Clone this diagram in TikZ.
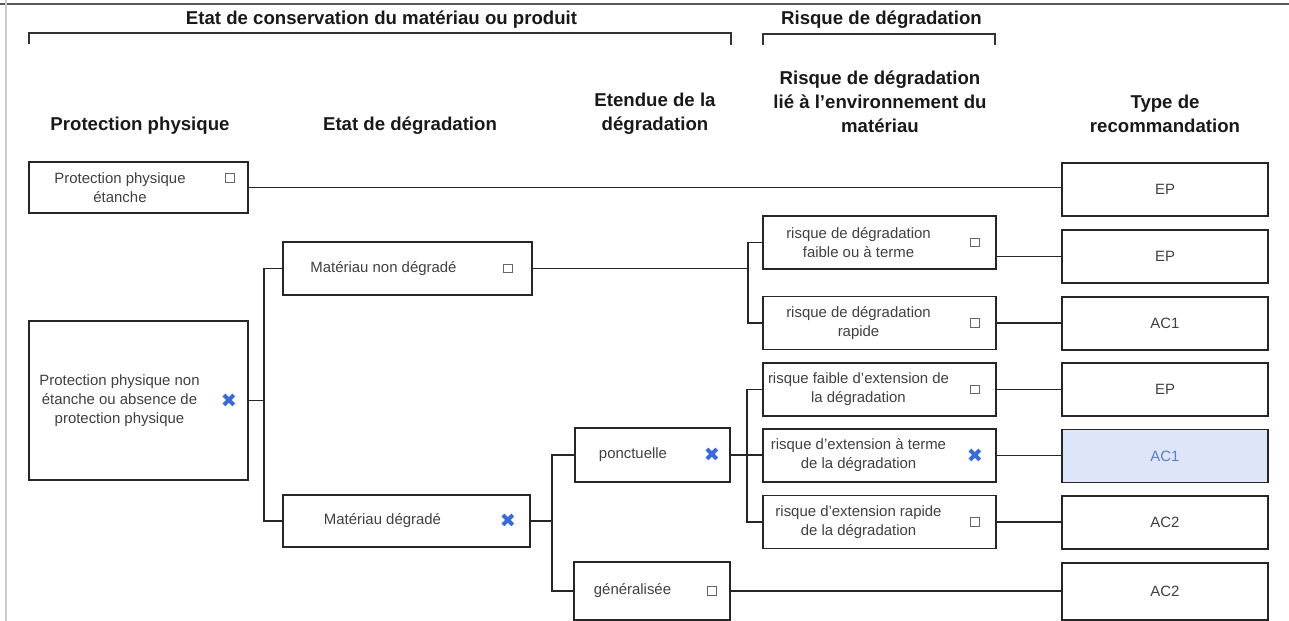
\documentclass[tikz,border=0pt]{standalone}
\usepackage{fontspec}
\setmainfont{Liberation Sans}
\newfontfamily\glyphfont{DejaVu Sans}
\usetikzlibrary{calc}
\definecolor{crossblue}{RGB}{58,106,214}
\definecolor{hilite}{RGB}{221,230,248}
\definecolor{hilitetext}{RGB}{95,125,205}

\begin{document}
\begin{tikzpicture}[x=0.02cm, y=-0.02cm,
    box/.style={draw=black!85, line width=1pt, fill=white, inner sep=0pt, minimum height=1.06cm},
    txt/.style={font=\fontsize{8.5}{10.8}\selectfont, text=black!75, align=center, inner sep=0pt},
    head/.style={font=\fontsize{10.6}{13.7}\selectfont\bfseries, text=black!90, align=center, inner sep=0pt},
    chk/.style={draw=black!60, line width=0.5pt, minimum size=0.17cm, inner sep=0pt},
    cross/.style={font=\glyphfont\fontsize{11}{11}\selectfont, text=crossblue, inner sep=0pt},
    link/.style={draw=black!85, line width=1pt}]
    \useasboundingbox (0,0) rectangle (1289,621);
    % page edges of the scan
    \draw[black!65, line width=0.6pt] (0,4) -- (1289,4);
    \draw[black!20, line width=1.4pt] (6,0) -- (6,621);

    % group headers
    \node[head] (grp1) at (381.5,20) {Etat de conservation du matériau ou produit};
    \node[head] (grp2) at (881.5,20) {Risque de dégradation};
    \draw[black!80, line width=0.8pt] (29,44) -- (29,33) -- (731,33) -- (731,45);
    \draw[black!80, line width=0.8pt] (763,45) -- (763,34) -- (995,34) -- (995,45);

    % column headers
    \node[head] (h1) at (140,126) {Protection physique};
    \node[head] (h2) at (410,126) {Etat de dégradation};
    \node[head] (h3) at (655,114) {Etendue de la\\dégradation};
    \node[head] (h4) at (880,102) {Risque de dégradation\\lié à l'environnement du\\matériau};
    \node[head] (h5) at (1165,114) {Type de\\recommandation};

    % protection physique
    \node[box, minimum width=4.38cm, minimum height=1.02cm] (ppe) at (138.5,187.5) {};
    \node[txt] (ppe-t) at ([xshift=-0.37cm]ppe.center) {Protection physique\\étanche};
    \node[chk] (ppe-c) at ([xshift=-0.38cm, yshift=0.19cm]ppe.east) {};
    \node[box, minimum width=4.38cm, minimum height=3.18cm] (ppne) at (138.5,400.5) {};
    \node[txt] (ppne-t) at ([xshift=-0.38cm]ppne.center) {Protection physique non\\étanche ou absence de\\protection physique};
    \node[cross] (ppne-x) at ([xshift=-0.4cm]ppne.east) {✖};

    % etat de degradation
    \node[box, minimum width=4.98cm] (mnd) at (407.5,268.5) {};
    \node[txt] (mnd-t) at ([xshift=-0.48cm]mnd.center) {Matériau non dégradé};
    \node[chk] (mnd-c) at ([xshift=-0.5cm]mnd.east) {};
    \node[box, minimum width=4.94cm, minimum height=1.04cm] (md) at (406.5,521) {};
    \node[txt] (md-t) at ([xshift=-0.48cm]md.center) {Matériau dégradé};
    \node[cross] (md-x) at ([xshift=-0.46cm]md.east) {✖};

    % etendue
    \node[box, minimum width=3.1cm, minimum height=1.08cm] (ponct) at (652.5,455) {};
    \node[txt] (ponct-t) at ([xshift=-0.39cm]ponct.center) {ponctuelle};
    \node[cross] (ponct-x) at ([xshift=-0.38cm]ponct.east) {✖};
    \node[box, minimum width=3.12cm, minimum height=1.16cm] (gen) at (652,591) {};
    \node[txt] (gen-t) at ([xshift=-0.39cm]gen.center) {généralisée};
    \node[chk] (gen-c) at ([xshift=-0.38cm]gen.east) {};

    % risque
    \node[box, minimum width=4.66cm] (risk1) at (879.5,242.5) {};
    \node[txt] at ([xshift=-0.42cm]risk1.center) {risque de dégradation\\faible ou à terme};
    \node[chk] (risk1-c) at ([xshift=-0.44cm]risk1.east) {};
    \node[box, minimum width=4.66cm] (risk2) at (879.5,323) {};
    \node[txt] at ([xshift=-0.42cm]risk2.center) {risque de dégradation\\rapide};
    \node[chk] (risk2-c) at ([xshift=-0.44cm]risk2.east) {};
    \node[box, minimum width=4.66cm] (risk3) at (879.5,389.5) {};
    \node[txt] at ([xshift=-0.42cm]risk3.center) {risque faible d'extension de\\la dégradation};
    \node[chk] (risk3-c) at ([xshift=-0.44cm]risk3.east) {};
    \node[box, minimum width=4.66cm] (risk4) at (879.5,455.5) {};
    \node[txt] at ([xshift=-0.42cm]risk4.center) {risque d'extension à terme\\de la dégradation};
    \node[cross] (risk4-x) at ([xshift=-0.44cm]risk4.east) {✖};
    \node[box, minimum width=4.66cm] (risk5) at (879.5,522) {};
    \node[txt] at ([xshift=-0.42cm]risk5.center) {risque d'extension rapide\\de la dégradation};
    \node[chk] (risk5-c) at ([xshift=-0.44cm]risk5.east) {};

    % recommandations
    \node[box, txt, minimum width=4.12cm] (rec1) at (1165,189.5) {EP};
    \node[box, txt, minimum width=4.12cm] (rec2) at (1165,256.5) {EP};
    \node[box, txt, minimum width=4.12cm] (rec3) at (1165,323.5) {AC1};
    \node[box, txt, minimum width=4.12cm] (rec4) at (1165,389.5) {EP};
    \node[box, txt, minimum width=4.12cm, fill=hilite, text=hilitetext] (rec5) at (1165,456) {AC1};
    \node[box, txt, minimum width=4.12cm] (rec6) at (1165,522.5) {AC2};
    \node[box, txt, minimum width=4.12cm, minimum height=1.14cm] (rec7) at (1165,591.5) {AC2};

    % connectors
    \coordinate (sp1) at (264,0);
    \coordinate (sp2) at (748,0);
    \coordinate (sp3) at (552,0);
    \coordinate (sp4) at (747,0);
    \draw[link] (ppe.east) -- (ppe.east -| rec1.west);
    \draw[link] (ppne.east) -- (ppne.east -| sp1);
    \draw[link] (mnd.west) -- (mnd.west -| sp1) -- (md.west -| sp1) -- (md.west);
    \draw[link] (mnd.east) -- (mnd.east -| sp2);
    \draw[link] (risk1.west) -- (risk1.west -| sp2) -- (risk2.west -| sp2) -- (risk2.west);
    \draw[link] (md.east) -- (md.east -| sp3);
    \draw[link] (ponct.west) -- (ponct.west -| sp3) -- (gen.west -| sp3) -- (gen.west);
    \draw[link] (ponct.east) -- (ponct.east -| risk4.west);
    \draw[link] (risk3.west) -- (risk3.west -| sp4) -- (risk5.west -| sp4) -- (risk5.west);
    \draw[link] (gen.east) -- (gen.east -| rec7.west);
    \draw[link] (risk1.east |- rec2.west) -- (rec2.west);
    \foreach \a/\b in {risk2/rec3, risk3/rec4, risk4/rec5, risk5/rec6}
        \draw[link] (\a.east) -- (\a.east -| \b.west);
\end{tikzpicture}
\end{document}
